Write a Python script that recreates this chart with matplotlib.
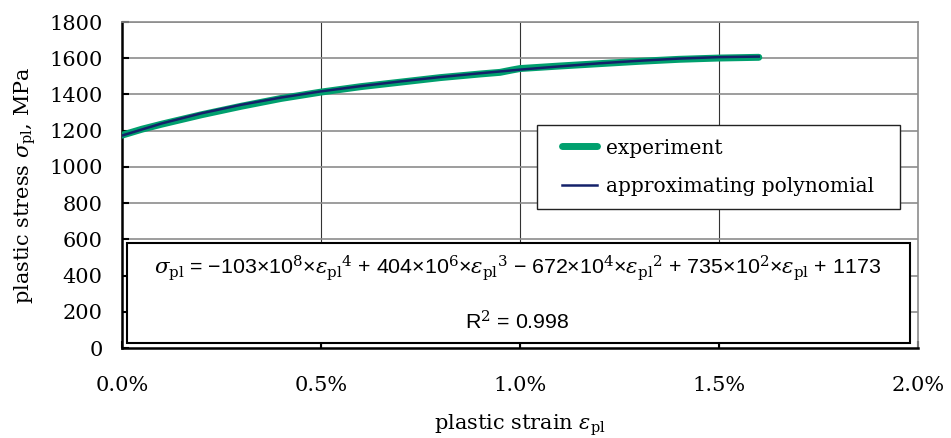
import matplotlib
matplotlib.use("Agg")
import matplotlib.pyplot as plt
from matplotlib.patches import Rectangle

# strain in %, stress in MPa
exp_strain = [0.0, 0.05, 0.1, 0.2, 0.3, 0.4, 0.5, 0.6, 0.7, 0.8, 0.9, 0.95,
              0.98, 1.0, 1.1, 1.2, 1.3, 1.4, 1.5, 1.6]
exp_stress = [1175, 1208, 1236, 1288, 1335, 1378, 1413, 1443, 1468, 1493, 1513,
              1522, 1535, 1543, 1557, 1570, 1583, 1594, 1601, 1605]

poly_strain = [0.0, 0.1, 0.2, 0.3, 0.4, 0.5, 0.6, 0.7, 0.8, 0.9, 1.0,
               1.1, 1.2, 1.3, 1.4, 1.5, 1.6]
poly_stress = [1173, 1240, 1296, 1343, 1383, 1417, 1446, 1472, 1496, 1517, 1537,
               1555, 1572, 1586, 1598, 1606, 1609]

x_ticks = [0.0, 0.5, 1.0, 1.5, 2.0]
x_labels = ["0.0%", "0.5%", "1.0%", "1.5%", "2.0%"]
y_ticks = [0, 200, 400, 600, 800, 1000, 1200, 1400, 1600, 1800]

plt.rcParams['font.family'] = 'DejaVu Serif'
plt.rcParams['mathtext.fontset'] = 'dejavuserif'

fig = plt.figure(figsize=(9.51, 4.38), dpi=100)
ax = fig.add_axes([122/951, 1 - 348/438, 796/951, 326/438])

green = '#00a06e'
navy = '#14216a'

ax.plot(exp_strain, exp_stress, color=green, lw=5, solid_capstyle='round',
        label='experiment', zorder=3)
ax.plot(poly_strain, poly_stress, color=navy, lw=1.8, label='approximating polynomial',
        zorder=4)

ax.set_xlim(0, 2.0)
ax.set_ylim(0, 1800)
ax.set_xticks(x_ticks)
ax.set_xticklabels(x_labels)
ax.set_yticks(y_ticks)

for x in x_ticks[1:-1]:
    ax.axvline(x, color='#333333', lw=0.8, zorder=1)
for y in y_ticks[1:]:
    ax.axhline(y, color='#8c8c8c', lw=1.2, zorder=1)

for s in ['top', 'right']:
    ax.spines[s].set_color('#8c8c8c')
    ax.spines[s].set_linewidth(1.2)
for s in ['left', 'bottom']:
    ax.spines[s].set_color('black')
    ax.spines[s].set_linewidth(1.8)

ax.tick_params(axis='both', direction='in', length=5, width=1.5, labelsize=15)
ax.tick_params(axis='y', pad=14)
ax.tick_params(axis='x', pad=20)

ax.set_xlabel(r'plastic strain $\varepsilon_{\rm pl}$', fontsize=15, labelpad=13)
ax.set_ylabel(r'plastic stress $\sigma_{\rm pl}$, MPa', fontsize=15, labelpad=8)

# legend box drawn separately so the entries sit centred inside it
leg_box = Rectangle((0.521, 0.426), 0.456, 0.258, transform=ax.transAxes,
                    facecolor='white', edgecolor='#222222', lw=1.0, zorder=5)
ax.add_patch(leg_box)
leg = ax.legend(loc='center', bbox_to_anchor=(0.749, 0.555), fontsize=14.5,
                frameon=False, handlelength=1.7, borderpad=0.3,
                labelspacing=0.95, handletextpad=0.45)
leg.set_zorder(6)

box = Rectangle((0.006, 0.015), 0.984, 0.307, transform=ax.transAxes,
                facecolor='white', edgecolor='black', lw=1.5, zorder=5)
ax.add_patch(box)

eq = (r'$\sigma_{\rm pl}$ = −103×10$^8$×$\varepsilon_{\rm pl}$$^4$ + 404×10$^6$×$\varepsilon_{\rm pl}$$^3$'
      r' − 672×10$^4$×$\varepsilon_{\rm pl}$$^2$ + 735×10$^2$×$\varepsilon_{\rm pl}$ + 1173')
ax.text(0.497, 0.245, eq, transform=ax.transAxes, ha='center', va='center',
        fontsize=15.4, family='Liberation Sans', zorder=6)
ax.text(0.497, 0.08, r'R$^2$ = 0.998', transform=ax.transAxes, ha='center', va='center',
        fontsize=15.4, family='Liberation Sans', zorder=6)

fig.savefig('out.png', dpi=100)
